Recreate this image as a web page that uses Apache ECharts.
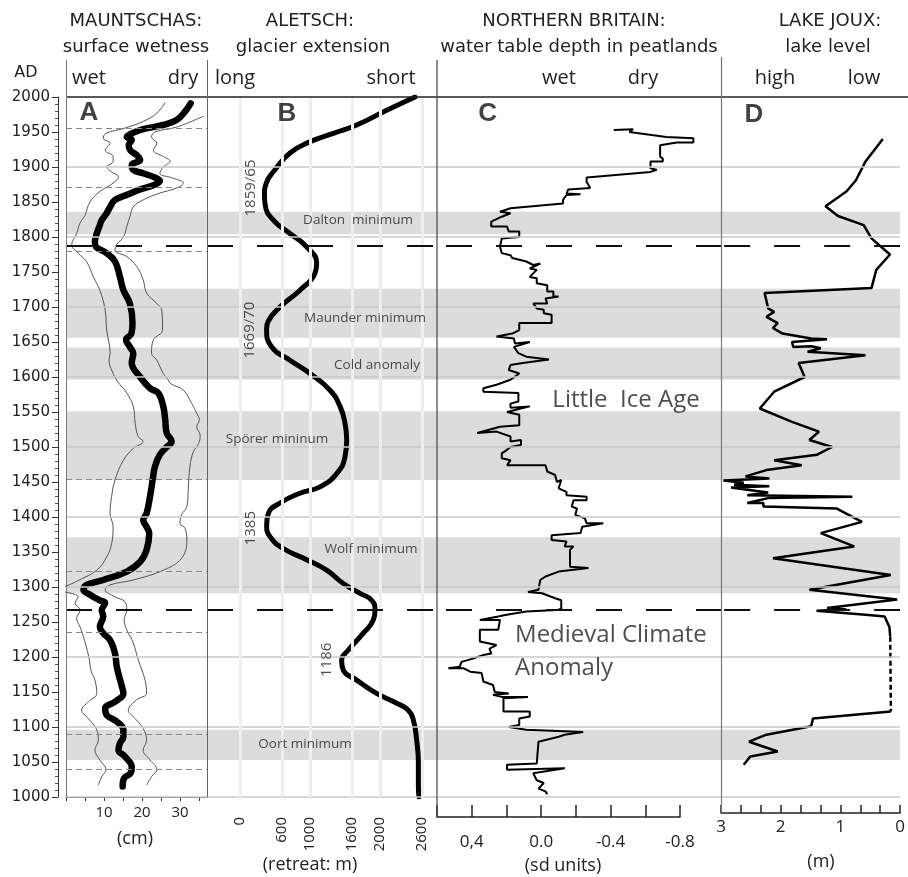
<!DOCTYPE html>
<html><head><meta charset="utf-8">
<script src="https://cdn.jsdelivr.net/npm/echarts@6/dist/echarts.min.js"></script>
<style>html,body{margin:0;padding:0;background:#fff}#c{width:908px;height:877px}</style>
</head><body><div id="c"></div>
<script>
// ---------------- DATA ----------------
// Solar minima / cold periods: [label, startYear, endYear]
const solarMinima = [
  ['Dalton minimum', 1804, 1836],
  ['Maunder minimum', 1656, 1726],
  ['Cold anomaly', 1596, 1642],
  ['Spörer mininum', 1453, 1551],
  ['Wolf minimum', 1291, 1371],
  ['Oort minimum', 1053, 1096]
];
// Thick dashed event lines (years)
const eventLines = [1788, 1268];
// Mauntschas dating points (thin dashed lines, years)
const datingPoints = [1956, 1871, 1779, 1454, 1322, 1235, 1090, 1040];

// Tick labels
const cmTicks = [10, 20, 30];
const retreatTicks = [0, 600, 1000, 1600, 2000, 2600];
const sdTicks = [0.4, 0, -0.4, -0.8];
const sdTickText = ['0,4', '0.0', '-0.4', '-0.8'];
const lakeTicks = [3, 2, 1, 0];

// A: Mauntschas surface wetness [cm, year]
const mauntschasMean = [
[32.8,1991],[31.3,1979],[29.1,1967],[25.6,1960],[20.3,1954],[17.3,1948],[16.0,1943],[17.3,1939],[16.5,1931],[16.9,1924],
[18.6,1917],[19.5,1910],[17.3,1903],[17.7,1896],[20.3,1891],[23.4,1885],[24.7,1880],[23.0,1874],[19.5,1868],[16.4,1861],
[12.9,1853],[11.6,1843],[10.7,1834],[9.4,1824],[8.9,1817],[8.1,1805],[7.6,1793],[7.9,1786],[10.7,1777],[12.9,1765],
[14.2,1743],[15.1,1724],[16.8,1705],[17.5,1677],[17.2,1662],[15.8,1653],[16.8,1643],[17.7,1634],[17.3,1620],[19.5,1600],
[22.1,1584],[24.3,1577],[25.6,1558],[26.1,1539],[26.5,1520],[27.8,1508],[26.5,1500],[24.7,1489],[23.4,1472],[22.8,1453],
[22.1,1429],[21.2,1405],[20.3,1396],[21.2,1386],[21.9,1377],[21.2,1353],[19.5,1336],[16.0,1322],[9.8,1310],[5.4,1303],
[4.6,1296],[6.3,1289],[8.9,1281],[10.3,1277],[9.4,1267],[9.8,1258],[8.9,1243],[9.8,1234],[11.6,1224],[12.9,1205],
[13.4,1185],[14.7,1158],[15.1,1148],[12.9,1136],[10.3,1127],[10.7,1117],[13.3,1108],[15.1,1096],[15.1,1086],[14.2,1077],
[13.8,1067],[15.5,1058],[17.3,1043],[17.0,1034],[15.3,1027],[14.9,1015]
];
const mauntschasLow = [
[26.1,1992],[23.9,1977],[20.3,1965],[15.1,1955],[10.5,1948],[9.8,1941],[11.6,1934],[10.3,1924],[12.4,1915],[12.4,1908],
[10.7,1900],[12.0,1893],[13.8,1886],[12.4,1877],[8.9,1865],[6.3,1850],[5.0,1831],[3.7,1820],[2.8,1805],[1.5,1789],
[3.2,1777],[5.4,1765],[7.2,1743],[8.9,1724],[10.3,1696],[10.7,1667],[11.6,1634],[11.3,1624],[12.4,1605],[13.3,1596],
[14.2,1589],[16.0,1577],[17.7,1558],[18.2,1534],[19.0,1515],[20.3,1508],[17.7,1498],[15.1,1481],[12.9,1453],[12.0,1429],
[11.6,1405],[12.4,1386],[12.0,1362],[10.7,1343],[8.1,1324],[2.8,1308],[-1.2,1296],[3.2,1286],[2.4,1277],[3.7,1267],
[2.8,1255],[3.7,1243],[4.6,1229],[6.0,1200],[6.6,1180],[7.6,1167],[8.1,1148],[5.9,1136],[4.1,1124],[5.9,1112],
[8.1,1096],[8.5,1081],[7.6,1067],[8.9,1053],[10.5,1039],[9.4,1029],[8.5,1017]
];
const mauntschasHigh = [
[36.3,1973],[29.1,1957],[23.4,1950],[22.5,1943],[23.9,1934],[23.0,1924],[25.6,1915],[27.4,1908],[25.6,1900],[24.7,1891],
[28.2,1884],[30.9,1877],[29.1,1870],[24.3,1862],[20.3,1853],[17.7,1843],[16.8,1829],[16.0,1815],[15.1,1800],[13.3,1789],
[12.9,1781],[16.0,1772],[18.6,1758],[20.3,1739],[21.2,1720],[23.9,1705],[25.2,1696],[25.4,1667],[23.0,1653],[22.5,1634],
[23.9,1624],[25.6,1605],[26.9,1596],[27.4,1591],[30.9,1581],[33.1,1562],[34.4,1548],[35.1,1539],[34.4,1529],[35.3,1517],
[34.9,1505],[33.5,1493],[32.6,1472],[32.2,1443],[31.8,1415],[30.4,1403],[30.0,1391],[31.3,1384],[31.8,1367],[30.4,1341],
[25.6,1324],[17.7,1310],[11.6,1303],[10.3,1296],[12.9,1286],[15.5,1279],[16.0,1267],[15.3,1253],[16.0,1239],[17.7,1220],
[19.0,1196],[20.8,1167],[21.2,1148],[18.6,1139],[16.4,1124],[18.2,1112],[20.3,1098],[21.2,1081],[20.3,1067],[22.1,1053],
[23.9,1039],[22.5,1029],[21.2,1017]
];

// B: Aletsch glacier retreat [m, year]
const aletschRetreat = [
[2500,2000],[2095,1981],[1667,1960],[1333,1948],[1000,1936],[714,1920],[500,1896],[380,1878],[350,1860],[360,1846],
[476,1824],[714,1805],[952,1786],[1095,1762],[1071,1748],[857,1724],[571,1700],[405,1680],[380,1669],[452,1643],
[714,1624],[1000,1605],[1286,1581],[1429,1558],[1500,1534],[1524,1510],[1500,1486],[1381,1462],[1143,1443],[857,1434],
[571,1420],[405,1405],[381,1388],[429,1372],[619,1355],[952,1339],[1238,1324],[1476,1305],[1714,1291],[1881,1281],
[1929,1267],[1905,1253],[1762,1234],[1548,1210],[1452,1195],[1476,1181],[1667,1167],[1952,1148],[2238,1134],[2405,1124],
[2476,1110],[2524,1081],[2548,1048],[2548,1015],[2557,1000]
];

// C: Northern Britain water table depth [sd units, year]
const britainWTD = [
[-0.41,1953],[-0.52,1954],[-0.50,1950],[-0.71,1943],[-0.865,1941],[-0.865,1935],[-0.77,1935],[-0.675,1931],[-0.675,1915],[-0.69,1912],
[-0.69,1908],[-0.62,1908],[-0.62,1898],[-0.655,1896],[-0.62,1893],[-0.255,1885],[-0.255,1879],[-0.275,1870],[-0.15,1868],[-0.14,1862],
[-0.22,1861],[-0.14,1860],[-0.12,1853],[-0.12,1848],[0.18,1841],[0.24,1836],[0.18,1834],[0.23,1829],[0.29,1822],[0.29,1815],
[0.20,1815],[0.19,1808],[0.13,1808],[0.13,1800],[0.23,1798],[0.24,1786],[0.23,1777],[0.18,1774],[0.17,1770],[0.09,1765],
[0.05,1760],[0.01,1762],[0.07,1755],[0.03,1753],[0.07,1743],[0.03,1741],[0.03,1734],[-0.03,1731],[-0.03,1722],[-0.065,1722],
[-0.065,1715],[-0.095,1715],[-0.02,1712],[-0.03,1705],[0.05,1705],[0.03,1698],[-0.01,1696],[-0.01,1691],[-0.055,1689],[-0.055,1677],
[0.13,1677],[0.13,1667],[0.17,1662],[0.26,1658],[0.16,1655],[0.155,1648],[0.07,1650],[0.16,1643],[0.135,1634],[0.09,1629],
[-0.04,1625],[0.11,1620],[0.18,1617],[0.19,1610],[0.13,1605],[0.18,1596],[0.26,1589],[0.335,1584],[0.335,1579],[0.135,1577],
[0.135,1565],[0.18,1562],[0.18,1556],[0.07,1558],[0.20,1550],[0.19,1548],[0.13,1546],[0.13,1531],[0.24,1529],[0.37,1520],
[0.26,1522],[0.18,1515],[0.18,1508],[0.12,1510],[0.12,1503],[0.18,1500],[0.20,1496],[0.23,1491],[0.23,1484],[0.18,1481],
[0.20,1474],[-0.02,1474],[-0.03,1465],[-0.075,1460],[-0.085,1450],[-0.11,1453],[-0.095,1441],[-0.14,1436],[-0.14,1431],[-0.255,1429],
[-0.255,1424],[-0.18,1424],[-0.17,1415],[-0.20,1412],[-0.19,1403],[-0.245,1398],[-0.255,1391],[-0.35,1391],[-0.23,1386],[-0.22,1377],
[-0.055,1374],[-0.055,1367],[-0.14,1365],[-0.13,1358],[-0.18,1358],[-0.16,1353],[-0.16,1329],[-0.265,1327],[-0.095,1322],[-0.02,1315],
[0.01,1310],[0.02,1296],[0.08,1293],[0.0,1291],[-0.075,1284],[-0.11,1281],[-0.11,1269],[-0.085,1267],[0.09,1265],[0.21,1260],
[0.25,1258],[0.355,1253],[0.24,1253],[0.25,1239],[0.355,1239],[0.355,1222],[0.26,1217],[0.30,1212],[0.29,1205],[0.335,1203],
[0.39,1198],[0.46,1193],[0.47,1186],[0.535,1184],[0.45,1184],[0.41,1179],[0.345,1177],[0.335,1165],[0.28,1160],[0.27,1150],
[0.19,1148],[0.28,1146],[0.23,1143],[0.08,1143],[0.22,1141],[0.22,1122],[0.07,1122],[0.07,1115],[0.13,1112],[0.13,1103],
[0.19,1100],[0.09,1096],[-0.235,1093],[-0.13,1089],[-0.095,1086],[0.02,1079],[0.03,1048],[0.20,1046],[0.20,1039],[-0.13,1041],
[0.05,1034],[0.03,1024],[-0.01,1020],[0.02,1012],[-0.02,1008],[-0.03,1004]
];

// D: Lake Joux lake level [m, year]
const jouxUpper = [
[0.29,1940],[0.58,1908],[0.74,1881],[0.90,1865],[1.25,1844],[1.04,1830],[0.61,1817],[0.48,1798],[0.17,1775],[0.40,1753],
[0.48,1727],[2.27,1720],[2.21,1698],[2.11,1693],[2.24,1686],[2.05,1677],[2.13,1670],[1.97,1662],[1.49,1655],[1.225,1654],
[1.81,1650],[1.79,1643],[1.49,1644],[1.33,1641],[1.55,1636],[0.58,1631],[1.70,1620],[1.60,1600],[2.11,1579],[2.35,1555],
[1.81,1536],[1.36,1522],[1.52,1510],[1.14,1500],[1.39,1489],[2.11,1481],[1.65,1474],[2.24,1467],[2.59,1458],[2.19,1455],
[2.96,1452],[2.62,1449],[2.78,1446],[2.19,1444],[2.83,1442],[2.56,1439],[2.21,1435],[2.56,1431],[0.80,1429],[2.21,1427],
[2.56,1420],[2.29,1420],[2.29,1415],[1.06,1412],[0.64,1393],[1.33,1377],[0.77,1358],[2.13,1341],[0.156,1317],[1.52,1296],
[0.05,1282],[1.225,1270],[0.9,1268],[1.4,1266],[0.53,1260],[0.26,1258],[0.18,1243],[0.166,1229]
];
const jouxLower = [
[0.155,1122],[1.46,1112],[1.49,1101],[2.24,1089],[2.53,1079],[2.05,1065],[2.51,1058],[2.62,1046]
];

// ---------------- CHART ----------------
const FA = 'DejaVu Sans', FM = 'Open Sans';
const chart = echarts.init(document.getElementById('c'), null, {renderer: 'canvas'});
const centuryLines = [];
for (let y = 1000; y <= 1900; y += 100) centuryLines.push({yAxis: y});
const plain = v => String(v);

const hiddenY = i => ({gridIndex: i, type: 'value', min: 1000, max: 2000, show: false});
function frameSeries(i) {
  return {
    type: 'line', xAxisIndex: i, yAxisIndex: i, data: [], silent: true, z: 1,
    markArea: {silent: true, itemStyle: {color: '#dcdcdc'}, label: {show: false},
      data: solarMinima.map(m => [{yAxis: m[1]}, {yAxis: m[2]}])},
    markLine: {silent: true, symbol: 'none', label: {show: false}, animation: false,
      lineStyle: {color: '#c9c9c9', width: 1.5, type: 'solid'}, data: centuryLines}
  };
}
function eventSeries(i) {
  return {
    type: 'line', xAxisIndex: i, yAxisIndex: i, data: [], silent: true, z: 6,
    markLine: {silent: true, symbol: 'none', label: {show: false}, animation: false,
      lineStyle: {color: '#111', width: 2, type: [26, 24]},
      data: eventLines.map(y => ({yAxis: y}))}
  };
}
function annot(i, items, labelStyle) {
  return {
    type: 'scatter', xAxisIndex: i, yAxisIndex: i, symbolSize: 0, silent: true, z: 7,
    data: items.map(a => ({name: a.name, value: a.value})),
    label: Object.assign({show: true, position: 'inside', formatter: p => p.name, color: '#222'}, labelStyle)
  };
}
const letterStyle = {color: '#111', fontFamily: 'Liberation Sans', fontWeight: 'bold', fontSize: 26};

const option = {
  animation: false,
  backgroundColor: '#fff',
  grid: [
    {left: 66, top: 97, width: 141, height: 700},
    {left: 207, top: 97, width: 230, height: 700},
    {left: 437, top: 97, width: 285, height: 700},
    {left: 721, top: 97, width: 187, height: 700},
    {left: 437, top: 797, width: 243, height: 20}
  ],
  xAxis: [
    {gridIndex: 0, type: 'value', min: 0, max: 37.1,
      axisLine: {show: true, lineStyle: {color: '#333', width: 1}},
      axisTick: {show: true, customValues: [0,5,10,15,20,25,30,35], length: 4, lineStyle: {color: '#333'}},
      axisLabel: {customValues: cmTicks, fontFamily: FM, fontSize: 15, color: '#222', margin: 8, formatter: plain},
      splitLine: {show: false}},
    {gridIndex: 1, type: 'value', min: -471, max: 2814,
      axisLine: {show: false}, axisTick: {show: false}, splitLine: {show: false},
      axisLabel: {customValues: retreatTicks, rotate: 90, fontFamily: FM, fontSize: 15, color: '#222', margin: 20, formatter: plain}},
    {gridIndex: 2, type: 'value', inverse: true, min: -1.0286, max: 0.6, show: false},
    {gridIndex: 3, type: 'value', inverse: true, min: 0, max: 3, offset: 16,
      axisLine: {show: true, lineStyle: {color: '#222', width: 1.5}},
      axisTick: {show: true, inside: true, length: 8, lineStyle: {color: '#222', width: 1.5},
        customValues: [0,1/3,2/3,1,4/3,5/3,2,7/3,8/3,3]},
      axisLabel: {customValues: lakeTicks, fontFamily: FM, fontSize: 17, color: '#222', margin: 6, formatter: plain},
      splitLine: {show: false}},
    {gridIndex: 4, type: 'value', inverse: true, min: -0.8, max: 0.6,
      axisLine: {show: true, lineStyle: {color: '#222', width: 1.5}},
      axisTick: {show: true, inside: true, length: 12, lineStyle: {color: '#222', width: 1.5},
        customValues: [-0.8,-0.6,-0.4,-0.2,0,0.2,0.4,0.6]},
      axisLabel: {customValues: sdTicks, fontFamily: FM, fontSize: 17, color: '#222', margin: 17,
        formatter: v => sdTickText[sdTicks.findIndex(t => Math.abs(t - v) < 1e-6)]},
      splitLine: {show: false}}
  ],
  yAxis: [
    hiddenY(0), hiddenY(1), hiddenY(2), hiddenY(3), hiddenY(4),
    {gridIndex: 0, type: 'value', min: 1000, max: 2000, interval: 50, position: 'left', offset: 8,
      axisLine: {show: true, lineStyle: {color: '#333', width: 1}},
      axisTick: {show: true, length: 6, lineStyle: {color: '#333'}},
      minorTick: {show: true, splitNumber: 5, length: 3, lineStyle: {color: '#555'}},
      axisLabel: {fontFamily: FA, fontSize: 15, color: '#222', margin: 8, formatter: plain},
      splitLine: {show: false}}
  ],
  series: [
    frameSeries(0), frameSeries(1), frameSeries(2), frameSeries(3),
    // Aletsch vertical guide stripes
    {type: 'line', xAxisIndex: 1, yAxisIndex: 1, data: [], silent: true, z: 2,
      markLine: {silent: true, symbol: 'none', label: {show: false}, animation: false,
        lineStyle: {color: '#eeeeee', width: 3, type: 'solid'},
        data: retreatTicks.map(v => ({xAxis: v}))}},
    // Mauntschas dating lines
    {type: 'line', xAxisIndex: 0, yAxisIndex: 0, data: [], silent: true, z: 2,
      markLine: {silent: true, symbol: 'none', label: {show: false}, animation: false,
        lineStyle: {color: '#888', width: 1.2, type: [6, 4]},
        data: datingPoints.map(y => ({yAxis: y}))}},
    eventSeries(0), eventSeries(1), eventSeries(2), eventSeries(3),
    // A
    {name: 'low', type: 'line', xAxisIndex: 0, yAxisIndex: 0, data: mauntschasLow, smooth: 0.4, clip: false,
      symbol: 'none', lineStyle: {color: '#555', width: 1}, z: 3},
    {name: 'high', type: 'line', xAxisIndex: 0, yAxisIndex: 0, data: mauntschasHigh, smooth: 0.4, clip: false,
      symbol: 'none', lineStyle: {color: '#555', width: 1}, z: 3},
    {name: 'mean', type: 'line', xAxisIndex: 0, yAxisIndex: 0, data: mauntschasMean, smooth: 0.4,
      symbol: 'none', lineStyle: {color: '#000', width: 6.5, cap: 'round', join: 'round'}, z: 4},
    // B
    {name: 'aletsch', type: 'line', xAxisIndex: 1, yAxisIndex: 1, data: aletschRetreat, smooth: 0.5,
      symbol: 'none', lineStyle: {color: '#000', width: 5, cap: 'round'}, z: 4},
    // C
    {name: 'britain', type: 'line', xAxisIndex: 2, yAxisIndex: 2, data: britainWTD,
      symbol: 'none', lineStyle: {color: '#000', width: 2}, z: 4},
    // D
    {name: 'jouxU', type: 'line', xAxisIndex: 3, yAxisIndex: 3, data: jouxUpper,
      symbol: 'none', lineStyle: {color: '#000', width: 2.5}, z: 4},
    {name: 'jouxGap', type: 'line', xAxisIndex: 3, yAxisIndex: 3,
      data: [jouxUpper[jouxUpper.length - 1], jouxLower[0]],
      symbol: 'none', lineStyle: {color: '#000', width: 2.5, type: [5, 3]}, z: 4},
    {name: 'jouxL', type: 'line', xAxisIndex: 3, yAxisIndex: 3, data: jouxLower,
      symbol: 'none', lineStyle: {color: '#000', width: 2.5}, z: 4},
    // annotations
    annot(0, [{name: 'A', value: [6.05, 1977]}], letterStyle),
    annot(1, [{name: 'B', value: [671, 1976]}], letterStyle),
    annot(2, [{name: 'C', value: [0.31, 1976]}], letterStyle),
    annot(3, [{name: 'D', value: [2.45, 1974]}], letterStyle),
    annot(1, [
      {name: 'Dalton  minimum', value: [1686, 1824]},
      {name: 'Maunder minimum', value: [1786, 1684]},
      {name: 'Cold anomaly', value: [1957, 1617]},
      {name: 'Spörer mininum', value: [529, 1511]},
      {name: 'Wolf minimum', value: [1871, 1354]},
      {name: 'Oort minimum', value: [929, 1076]}
    ], {fontFamily: FM, fontSize: 13.5}),
    annot(1, [
      {name: '1859/65', value: [157, 1870]},
      {name: '1669/70', value: [143, 1667]},
      {name: '1385', value: [157, 1384]},
      {name: '1186', value: [1243, 1196]}
    ], {rotate: 90, fontFamily: FM, fontSize: 15}),
    annot(2, [{name: 'Little  Ice Age', value: [-0.48, 1567]}], {fontFamily: FM, fontSize: 24}),
    annot(2, [{name: 'Medieval Climate\nAnomaly', value: [0.154, 1207]}],
      {position: 'right', distance: 0, align: 'left', lineHeight: 33, fontFamily: FM, fontSize: 24}),
    {type: 'line', xAxisIndex: 4, yAxisIndex: 4, data: [], silent: true}
  ],
  graphic: [
    // frame lines
    {type: 'line', shape: {x1: 66, y1: 97, x2: 908, y2: 97}, style: {stroke: '#222', lineWidth: 1.5}, z: 10},
    {type: 'line', shape: {x1: 66.5, y1: 60, x2: 66.5, y2: 797}, style: {stroke: '#777', lineWidth: 1}, z: 10},
    {type: 'line', shape: {x1: 207.5, y1: 60, x2: 207.5, y2: 797}, style: {stroke: '#666', lineWidth: 1}, z: 10},
    {type: 'line', shape: {x1: 437, y1: 60, x2: 437, y2: 817}, style: {stroke: '#444', lineWidth: 1.2}, z: 10},
    {type: 'line', shape: {x1: 721.5, y1: 57, x2: 721.5, y2: 813}, style: {stroke: '#777', lineWidth: 1.2}, z: 10},
    // titles
    ...[
      ['MAUNTSCHAS:', 136, 21], ['surface wetness', 136, 47],
      ['ALETSCH:', 310, 21], ['glacier extension', 313, 47],
      ['NORTHERN BRITAIN:', 574, 21], ['water table depth in peatlands', 579, 47],
      ['LAKE JOUX:', 830, 21], ['lake level', 828, 47]
    ].map(t => ({type: 'text', x: t[1], y: t[2], z: 10,
      style: {text: t[0], font: '18px "DejaVu Sans"', fill: '#222', textAlign: 'center', textVerticalAlign: 'middle'}})),
    {type: 'text', x: 26, y: 73, z: 10, style: {text: 'AD', font: '16px "DejaVu Sans"', fill: '#222', textAlign: 'center', textVerticalAlign: 'middle'}},
    ...[
      ['wet', 89], ['dry', 183], ['long', 235], ['short', 391],
      ['wet', 559], ['dry', 643], ['high', 775], ['low', 864]
    ].map(t => ({type: 'text', x: t[1], y: 78, z: 10,
      style: {text: t[0], font: '20px "Open Sans"', fill: '#222', textAlign: 'center', textVerticalAlign: 'middle'}})),
    ...[
      ['(cm)', 135, 839], ['(retreat: m)', 310, 865], ['(sd units)', 563, 866], ['(m)', 821, 862]
    ].map(t => ({type: 'text', x: t[1], y: t[2], z: 10,
      style: {text: t[0], font: '18px "Open Sans"', fill: '#222', textAlign: 'center', textVerticalAlign: 'middle'}}))
  ]
};
chart.setOption(option);
</script></body></html>
